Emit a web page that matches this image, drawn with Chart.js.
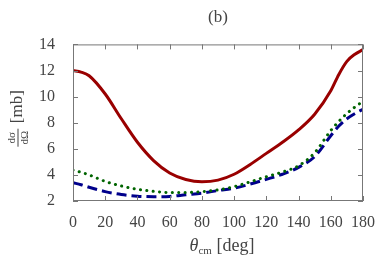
<!DOCTYPE html>
<html>
<head>
<meta charset="utf-8">
<script src="https://cdn.jsdelivr.net/npm/chart.js@4"></script>
<style>
  html, body { margin: 0; padding: 0; background: #fff; }
  #wrap { width: 382px; height: 265px; }
</style>
</head>
<body>
<div id="wrap"><canvas id="c"></canvas></div>
<script>
// angles (deg) and the three cross sections (mb)
const angles = [0, 5, 10, 20, 30, 40, 50, 60, 70, 80, 90, 100, 110, 120, 130, 140, 150, 160, 165, 170, 175, 180];
const solidVals  = [12.0, 11.88, 11.6, 10.2, 8.3, 6.5, 5.1, 4.15, 3.65, 3.47, 3.6, 4.05, 4.8, 5.65, 6.5, 7.45, 8.65, 10.45, 11.7, 12.7, 13.25, 13.6];
const dottedVals = [4.37, 4.2, 4.0, 3.5, 3.15, 2.9, 2.74, 2.65, 2.65, 2.72, 2.85, 3.1, 3.47, 3.86, 4.22, 4.7, 5.7, 7.4, 8.1, 8.7, 9.2, 9.64];
const dashedVals = [3.4, 3.25, 3.05, 2.72, 2.5, 2.37, 2.33, 2.35, 2.48, 2.6, 2.8, 2.98, 3.3, 3.66, 4.05, 4.58, 5.4, 7.0, 7.75, 8.3, 8.7, 9.03];
const xTicks = [0, 20, 40, 60, 80, 100, 120, 140, 160, 180];
const yTicks = [2, 4, 6, 8, 10, 12, 14];

const serif = '"Liberation Serif", "DejaVu Serif", serif';
const pts = arr => angles.map((a, i) => ({ x: a, y: arr[i] }));

// frame, inward ticks and axis labels
const framePlugin = {
  id: 'frame',
  afterDraw(chart) {
    const ctx = chart.ctx;
    const a = chart.chartArea;
    const xs = chart.scales.x, ys = chart.scales.y;
    ctx.save();
    ctx.strokeStyle = '#777';
    ctx.lineWidth = 1;
    ctx.strokeRect(a.left + 0.5, a.top + 0.5, a.right - a.left - 1, a.bottom - a.top - 1);
    ctx.beginPath();
    xTicks.forEach(v => {
      const px = Math.round(xs.getPixelForValue(v)) + 0.5;
      ctx.moveTo(px, a.bottom); ctx.lineTo(px, a.bottom - 5);
      ctx.moveTo(px, a.top); ctx.lineTo(px, a.top + 5);
    });
    yTicks.forEach(v => {
      const py = Math.round(ys.getPixelForValue(v)) + 0.5;
      ctx.moveTo(a.left, py); ctx.lineTo(a.left + 5, py);
      ctx.moveTo(a.right, py); ctx.lineTo(a.right - 5, py);
    });
    ctx.stroke();

    // y label: d sigma / d Omega [mb]
    ctx.fillStyle = '#444';
    ctx.translate(18, (a.top + a.bottom) / 2);
    ctx.rotate(-Math.PI / 2);
    ctx.textBaseline = 'middle';
    ctx.textAlign = 'left';
    ctx.font = '17px ' + serif;
    ctx.fillText('[mb]', -0.5, 0);
    ctx.font = '11px ' + serif;
    ctx.textAlign = 'center';
    ctx.fillText('d\u03c3', -15, -6);
    ctx.fillText('d\u03a9', -15, 7);
    ctx.fillRect(-24, -0.5, 18, 1);
    ctx.restore();

    // x label: theta_cm [deg]
    ctx.save();
    ctx.fillStyle = '#444';
    ctx.textBaseline = 'alphabetic';
    ctx.textAlign = 'left';
    const cx = (a.left + a.right) / 2 + 4;
    const base = 251;
    ctx.font = 'italic 18px ' + serif;
    const w1 = ctx.measureText('\u03b8').width;
    ctx.font = '11px ' + serif;
    const w2 = ctx.measureText('cm').width;
    ctx.font = '18px ' + serif;
    const w3 = ctx.measureText(' [deg]').width;
    let x0 = cx - (w1 + w2 + w3) / 2;
    ctx.font = 'italic 18px ' + serif;
    ctx.fillText('\u03b8', x0, base);
    ctx.font = '11px ' + serif;
    ctx.fillText('cm', x0 + w1, base + 3);
    ctx.font = '18px ' + serif;
    ctx.fillText(' [deg]', x0 + w1 + w2, base);
    ctx.restore();
  }
};

new Chart(document.getElementById('c'), {
  type: 'line',
  data: {
    datasets: [
      { data: pts(solidVals), borderColor: '#990000', borderWidth: 3, pointRadius: 0, cubicInterpolationMode: 'monotone' },
      { data: pts(dottedVals), borderColor: '#006400', borderWidth: 3, borderDash: [0.1, 6.3], borderCapStyle: 'round', pointRadius: 0, cubicInterpolationMode: 'monotone' },
      { data: pts(dashedVals), borderColor: '#00008b', borderWidth: 3, borderDash: [10, 5], pointRadius: 0, cubicInterpolationMode: 'monotone' }
    ]
  },
  options: {
    responsive: true,
    maintainAspectRatio: false,
    animation: false,
    layout: { padding: { left: 0, right: 19, top: 0, bottom: 0 } },
    plugins: {
      legend: { display: false },
      tooltip: { enabled: false },
      title: {
        display: true,
        text: '(b)',
        fullSize: false,
        color: '#444',
        font: { family: serif, size: 17, weight: 'normal' },
        padding: { top: 7, bottom: 17 }
      }
    },
    scales: {
      x: {
        type: 'linear',
        min: 0, max: 180,
        afterBuildTicks: s => { s.ticks = xTicks.map(v => ({ value: v })); },
        afterFit: s => { s.height = 64; },
        grid: { display: false },
        border: { display: false },
        ticks: { color: '#444', font: { family: serif, size: 16 }, padding: 4, maxRotation: 0 }
      },
      y: {
        min: 2, max: 14,
        afterBuildTicks: s => { s.ticks = yTicks.map(v => ({ value: v })); },
        afterFit: s => { s.width = 73; },
        grid: { display: false },
        border: { display: false },
        ticks: { color: '#444', font: { family: serif, size: 16 }, padding: 10 }
      }
    }
  },
  plugins: [framePlugin]
});
</script>
</body>
</html>
